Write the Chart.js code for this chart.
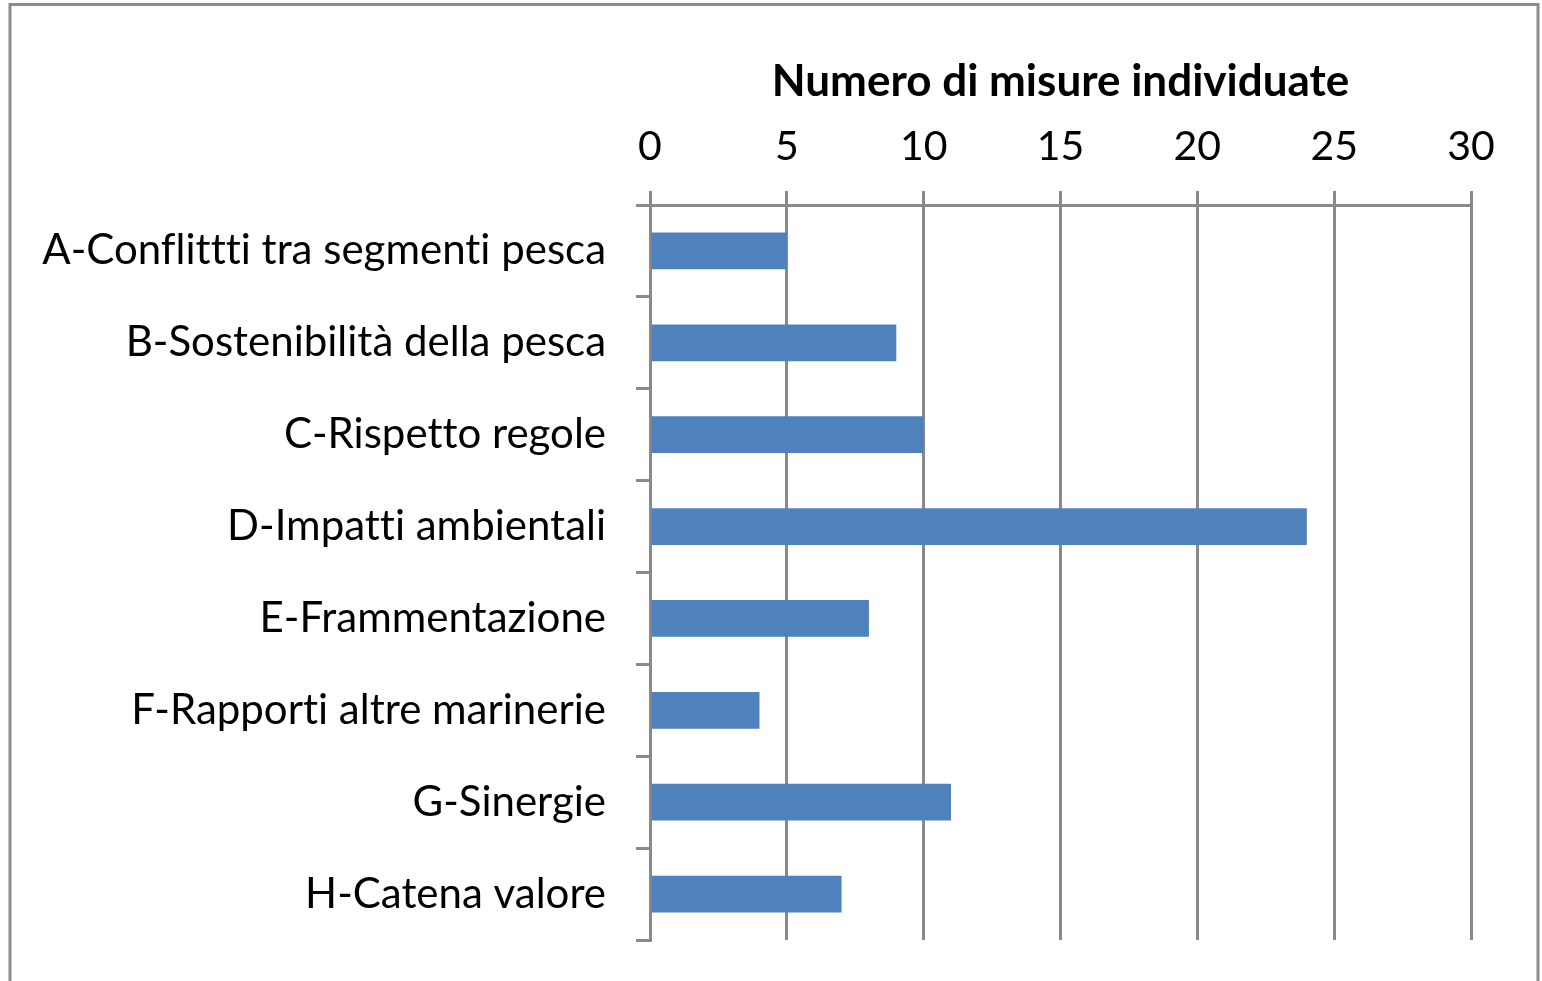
<!DOCTYPE html>
<html>
<head>
<meta charset="utf-8">
<script src="https://cdn.jsdelivr.net/npm/chart.js@4/dist/chart.umd.min.js"></script>
<style>
  html, body { margin: 0; padding: 0; background: #ffffff; }
  #wrap { width: 1542px; height: 981px; }
  canvas { font-variant-ligatures: none; }
</style>
</head>
<body>
<div id="wrap"><canvas id="c" width="1542" height="981"></canvas></div>
<script>
const categories = [
  "A-Conflittti tra segmenti pesca",
  "B-Sostenibilità della pesca",
  "C-Rispetto regole",
  "D-Impatti ambientali",
  "E-Frammentazione",
  "F-Rapporti altre marinerie",
  "G-Sinergie",
  "H-Catena valore"
];
const values = [5, 9, 10, 24, 8, 4, 11, 7];
const axisTitle = "Numero di misure individuate";
const xMin = 0, xMax = 30, xStep = 5;

const FONT = "Lato, 'Open Sans', 'DejaVu Sans', sans-serif";
const GRID = "#898989";

const frame = {
  id: 'frame',
  beforeDraw(chart) {
    try { chart.ctx.textRendering = 'optimizeSpeed'; } catch (e) {}
  },
  afterDraw(chart) {
    const ctx = chart.ctx;
    ctx.save();
    ctx.strokeStyle = "#8c8c8c";
    ctx.lineWidth = 3;
    ctx.strokeRect(10, 4.5, 1528, 1010);
    ctx.restore();
  }
};

new Chart(document.getElementById('c'), {
  type: 'bar',
  data: {
    labels: categories,
    datasets: [{
      data: values,
      backgroundColor: "#4F81BD",
      borderWidth: 0,
      barPercentage: 0.4,
      categoryPercentage: 1.0
    }]
  },
  plugins: [frame],
  options: {
    indexAxis: 'y',
    responsive: false,
    animation: false,
    layout: { padding: { left: 0, right: 71, top: 10, bottom: 41 } },
    plugins: { legend: { display: false }, tooltip: { enabled: false } },
    scales: {
      x: {
        position: 'top',
        min: xMin, max: xMax,
        afterFit(scale) { scale.height = 195; scale.paddingLeft = 0; scale.paddingRight = 0; },
        ticks: { stepSize: xStep, color: "#000", font: { family: FONT, size: 41 }, padding: 20 },
        grid: { color: GRID, lineWidth: 3, tickLength: 14, drawTicks: true },
        border: { display: true, color: GRID, width: 3 },
        title: {
          display: true, text: axisTitle, color: "#000",
          font: { family: FONT, size: 44, weight: 'bold' },
          padding: { top: 45, bottom: 0 }
        }
      },
      y: {
        afterFit(scale) { scale.width = 650; scale.paddingTop = 0; scale.paddingBottom = 0; },
        ticks: { color: "#000", font: { family: FONT, size: 42 }, padding: 30 },
        grid: { color: GRID, lineWidth: 3, tickLength: 14, drawOnChartArea: false, drawTicks: true, offset: true },
        border: { display: true, color: GRID, width: 3 }
      }
    }
  }
});
</script>
</body>
</html>
